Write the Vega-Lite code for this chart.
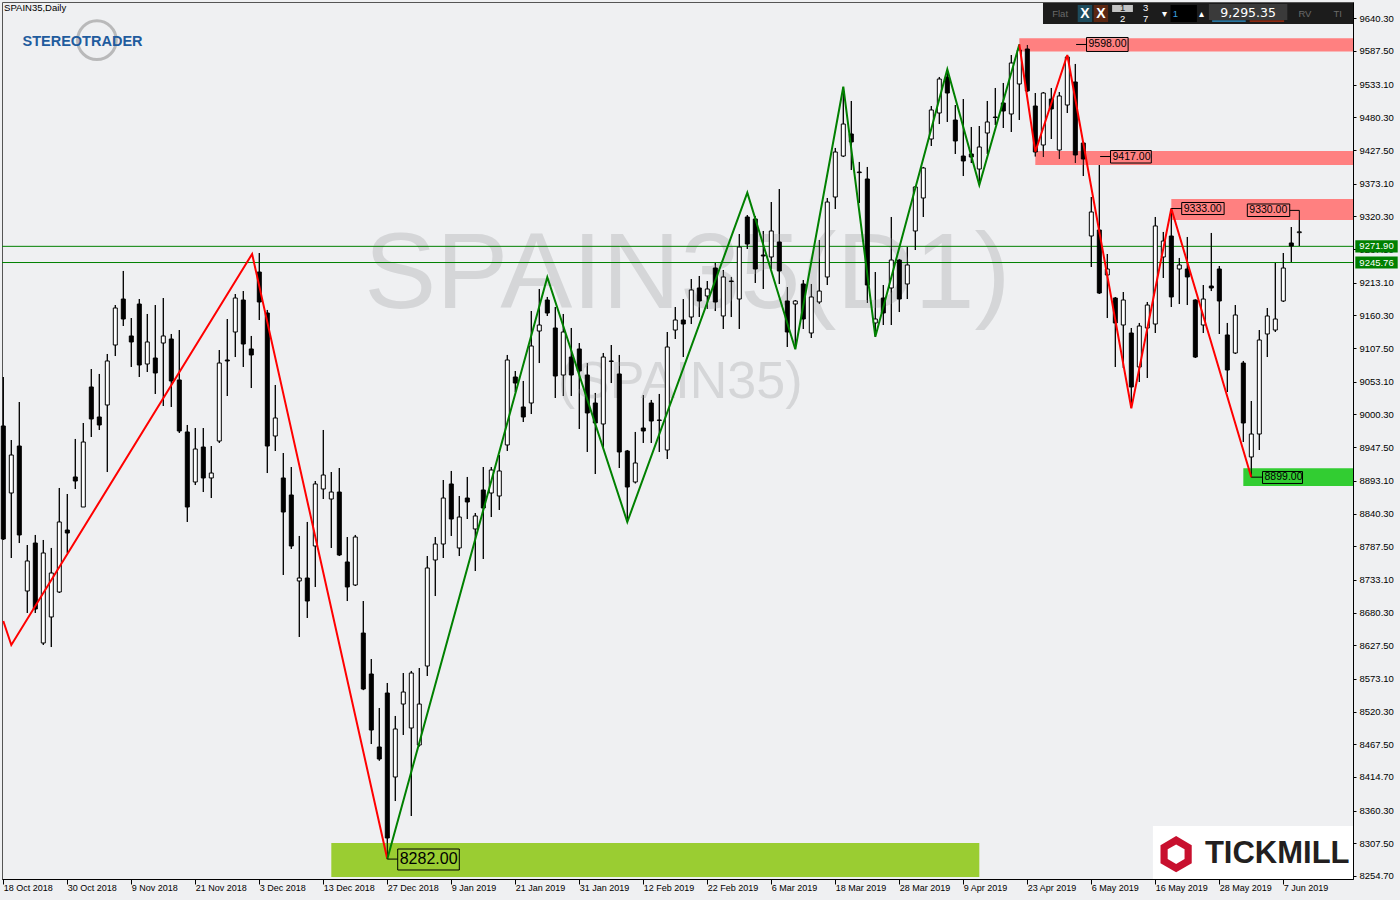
{
"$schema": "https://vega.github.io/schema/vega-lite/v6.json",
"width": 1351, "height": 877,
"autosize": {"type": "none"},
"padding": {"left": 2, "top": 2, "right": 47, "bottom": 21},
"background": "#eff0f2",
"config": {"view": {"stroke": "#555555", "strokeWidth": 1}, "font": "Liberation Sans", "axis": {"labelFont": "Liberation Sans", "grid": false, "title": null, "labelOverlap": false}, "scale": {"continuousPadding": 0}},
"resolve": {"scale": {"color": "independent", "fill": "independent", "stroke": "independent"}},
"datasets": {
"candles": [
{"i":0,"d":"2018-10-18","o":8981.7,"h":9060.8,"l":8797.5,"c":8799.1},
{"i":1,"d":"2018-10-19","o":8873.4,"h":8959.0,"l":8768.4,"c":8934.8},
{"i":2,"d":"2018-10-22","o":8949.3,"h":9020.4,"l":8792.6,"c":8805.6},
{"i":3,"d":"2018-10-23","o":8715.1,"h":8789.4,"l":8679.6,"c":8763.6},
{"i":4,"d":"2018-10-24","o":8792.6,"h":8805.6,"l":8679.6,"c":8686.0},
{"i":5,"d":"2018-10-25","o":8631.1,"h":8797.5,"l":8627.9,"c":8776.5},
{"i":6,"d":"2018-10-26","o":8673.1,"h":8784.6,"l":8624.6,"c":8744.2},
{"i":7,"d":"2018-10-29","o":8713.5,"h":8881.5,"l":8711.9,"c":8826.6},
{"i":8,"d":"2018-10-30","o":8813.6,"h":8871.8,"l":8776.5,"c":8808.8},
{"i":9,"d":"2018-10-31","o":8899.3,"h":8960.7,"l":8879.9,"c":8892.8},
{"i":10,"d":"2018-11-01","o":8850.8,"h":8986.5,"l":8850.8,"c":8955.8},
{"i":11,"d":"2018-11-02","o":9044.7,"h":9073.7,"l":8963.9,"c":8993.0},
{"i":12,"d":"2018-11-05","o":8996.2,"h":9065.7,"l":8975.2,"c":8983.3},
{"i":13,"d":"2018-11-06","o":9015.6,"h":9098.0,"l":8907.3,"c":9086.7},
{"i":14,"d":"2018-11-07","o":9112.5,"h":9177.1,"l":9094.7,"c":9172.3},
{"i":15,"d":"2018-11-08","o":9186.8,"h":9232.1,"l":9143.2,"c":9154.5},
{"i":16,"d":"2018-11-09","o":9127.1,"h":9156.1,"l":9077.0,"c":9117.4},
{"i":17,"d":"2018-11-12","o":9178.7,"h":9186.8,"l":9060.8,"c":9080.2},
{"i":18,"d":"2018-11-13","o":9081.8,"h":9162.6,"l":9068.9,"c":9117.4},
{"i":19,"d":"2018-11-14","o":9091.5,"h":9177.1,"l":9033.4,"c":9067.3},
{"i":20,"d":"2018-11-15","o":9115.7,"h":9188.4,"l":9014.0,"c":9127.1},
{"i":21,"d":"2018-11-16","o":9122.2,"h":9130.3,"l":9012.4,"c":9054.4},
{"i":22,"d":"2018-11-19","o":9056.0,"h":9136.7,"l":8970.4,"c":8973.6},
{"i":23,"d":"2018-11-20","o":8972.0,"h":8983.3,"l":8826.6,"c":8850.8},
{"i":24,"d":"2018-11-21","o":8891.2,"h":8978.4,"l":8886.3,"c":8944.5},
{"i":25,"d":"2018-11-22","o":8947.7,"h":8978.4,"l":8875.0,"c":8897.7},
{"i":26,"d":"2018-11-23","o":8897.7,"h":8949.3,"l":8865.3,"c":8905.7},
{"i":27,"d":"2018-11-26","o":8957.4,"h":9104.4,"l":8954.2,"c":9083.4},
{"i":28,"d":"2018-11-27","o":9088.3,"h":9154.5,"l":9030.1,"c":9086.7},
{"i":29,"d":"2018-11-28","o":9133.5,"h":9194.9,"l":9093.1,"c":9188.4},
{"i":30,"d":"2018-11-29","o":9185.2,"h":9199.7,"l":9077.0,"c":9114.1},
{"i":31,"d":"2018-11-30","o":9106.1,"h":9127.1,"l":9043.0,"c":9096.4},
{"i":32,"d":"2018-12-03","o":9230.4,"h":9261.1,"l":9152.9,"c":9182.0},
{"i":33,"d":"2018-12-04","o":9164.2,"h":9169.1,"l":8905.7,"c":8949.3},
{"i":34,"d":"2018-12-05","o":8965.5,"h":9047.9,"l":8941.3,"c":8994.6},
{"i":35,"d":"2018-12-06","o":8897.7,"h":8938.0,"l":8741.0,"c":8842.7},
{"i":36,"d":"2018-12-07","o":8870.2,"h":8915.4,"l":8783.0,"c":8787.8},
{"i":37,"d":"2018-12-10","o":8731.3,"h":8804.0,"l":8640.8,"c":8736.1},
{"i":38,"d":"2018-12-11","o":8736.1,"h":8826.6,"l":8671.5,"c":8698.9},
{"i":39,"d":"2018-12-12","o":8787.8,"h":8892.8,"l":8721.6,"c":8888.0},
{"i":40,"d":"2018-12-13","o":8879.9,"h":8975.2,"l":8863.7,"c":8902.5},
{"i":41,"d":"2018-12-14","o":8863.7,"h":8907.3,"l":8784.6,"c":8875.0},
{"i":42,"d":"2018-12-17","o":8875.0,"h":8913.8,"l":8771.6,"c":8773.3},
{"i":43,"d":"2018-12-18","o":8762.0,"h":8802.3,"l":8698.9,"c":8721.6},
{"i":44,"d":"2018-12-19","o":8724.8,"h":8805.6,"l":8723.2,"c":8802.3},
{"i":45,"d":"2018-12-20","o":8647.2,"h":8698.9,"l":8555.0,"c":8556.8},
{"i":46,"d":"2018-12-21","o":8581.0,"h":8605.2,"l":8467.9,"c":8490.5},
{"i":47,"d":"2018-12-24","o":8463.1,"h":8526.1,"l":8441.0,"c":8443.7},
{"i":48,"d":"2018-12-27","o":8550.3,"h":8566.5,"l":8282.0,"c":8316.1},
{"i":49,"d":"2018-12-28","o":8414.6,"h":8513.2,"l":8375.8,"c":8492.2},
{"i":50,"d":"2018-12-31","o":8532.5,"h":8582.6,"l":8482.5,"c":8551.9},
{"i":51,"d":"2019-01-02","o":8493.8,"h":8585.9,"l":8351.6,"c":8582.6},
{"i":52,"d":"2019-01-03","o":8466.3,"h":8590.7,"l":8464.0,"c":8532.5},
{"i":53,"d":"2019-01-04","o":8593.9,"h":8771.6,"l":8577.8,"c":8752.3},
{"i":54,"d":"2019-01-07","o":8765.2,"h":8802.3,"l":8707.0,"c":8791.0},
{"i":55,"d":"2019-01-08","o":8791.0,"h":8894.4,"l":8768.4,"c":8865.3},
{"i":56,"d":"2019-01-09","o":8888.0,"h":8909.0,"l":8804.0,"c":8831.4},
{"i":57,"d":"2019-01-10","o":8784.6,"h":8868.6,"l":8771.6,"c":8834.6},
{"i":58,"d":"2019-01-11","o":8865.3,"h":8899.3,"l":8831.4,"c":8858.9},
{"i":59,"d":"2019-01-14","o":8815.3,"h":8841.1,"l":8747.4,"c":8836.3},
{"i":60,"d":"2019-01-15","o":8878.3,"h":8915.4,"l":8766.8,"c":8849.2},
{"i":61,"d":"2019-01-16","o":8873.4,"h":8915.4,"l":8834.6,"c":8910.6},
{"i":62,"d":"2019-01-17","o":8868.6,"h":8934.8,"l":8846.0,"c":8909.0},
{"i":63,"d":"2019-01-18","o":8951.0,"h":9096.4,"l":8941.3,"c":9088.3},
{"i":64,"d":"2019-01-21","o":9060.8,"h":9070.5,"l":9036.6,"c":9051.1},
{"i":65,"d":"2019-01-22","o":9012.4,"h":9054.4,"l":8988.1,"c":8996.2},
{"i":66,"d":"2019-01-23","o":9018.8,"h":9167.4,"l":9001.0,"c":9110.9},
{"i":67,"d":"2019-01-24","o":9135.1,"h":9203.0,"l":9083.4,"c":9144.8},
{"i":68,"d":"2019-01-25","o":9185.2,"h":9190.1,"l":9159.4,"c":9164.2},
{"i":69,"d":"2019-01-28","o":9140.0,"h":9173.9,"l":9026.9,"c":9062.4},
{"i":70,"d":"2019-01-29","o":9064.0,"h":9162.6,"l":9030.1,"c":9133.5},
{"i":71,"d":"2019-01-30","o":9093.1,"h":9140.0,"l":9030.1,"c":9064.0},
{"i":72,"d":"2019-01-31","o":9106.1,"h":9115.7,"l":8976.8,"c":9070.5},
{"i":73,"d":"2019-02-01","o":9064.0,"h":9083.4,"l":8939.7,"c":9002.7},
{"i":74,"d":"2019-02-04","o":9018.8,"h":9035.0,"l":8904.1,"c":8986.5},
{"i":75,"d":"2019-02-05","o":8984.9,"h":9099.6,"l":8947.7,"c":9093.1},
{"i":76,"d":"2019-02-06","o":9086.7,"h":9112.5,"l":9051.1,"c":9086.0},
{"i":77,"d":"2019-02-07","o":9065.7,"h":9096.4,"l":8913.8,"c":8939.7},
{"i":78,"d":"2019-02-08","o":8941.3,"h":8942.9,"l":8826.6,"c":8883.1},
{"i":79,"d":"2019-02-11","o":8891.2,"h":8972.0,"l":8889.0,"c":8921.9},
{"i":80,"d":"2019-02-12","o":8978.4,"h":9031.7,"l":8954.2,"c":8973.6},
{"i":81,"d":"2019-02-13","o":9018.8,"h":9023.7,"l":8954.2,"c":8989.7},
{"i":82,"d":"2019-02-14","o":8991.4,"h":9033.4,"l":8939.7,"c":8990.6},
{"i":83,"d":"2019-02-15","o":8942.9,"h":9133.5,"l":8928.3,"c":9109.3},
{"i":84,"d":"2019-02-18","o":9136.7,"h":9173.9,"l":9122.2,"c":9152.9},
{"i":85,"d":"2019-02-19","o":9152.9,"h":9186.8,"l":9093.1,"c":9146.4},
{"i":86,"d":"2019-02-20","o":9157.7,"h":9219.1,"l":9146.4,"c":9201.4},
{"i":87,"d":"2019-02-21","o":9204.6,"h":9224.0,"l":9157.7,"c":9183.6},
{"i":88,"d":"2019-02-22","o":9191.7,"h":9215.9,"l":9170.7,"c":9203.0},
{"i":89,"d":"2019-02-25","o":9236.9,"h":9245.0,"l":9167.4,"c":9182.0},
{"i":90,"d":"2019-02-26","o":9159.4,"h":9233.7,"l":9138.4,"c":9222.4},
{"i":91,"d":"2019-02-27","o":9215.9,"h":9222.4,"l":9157.7,"c":9215.0},
{"i":92,"d":"2019-02-28","o":9186.8,"h":9291.8,"l":9138.4,"c":9270.8},
{"i":93,"d":"2019-03-01","o":9319.3,"h":9322.5,"l":9267.6,"c":9275.7},
{"i":94,"d":"2019-03-04","o":9316.1,"h":9320.9,"l":9212.7,"c":9235.3},
{"i":95,"d":"2019-03-05","o":9257.9,"h":9296.7,"l":9203.0,"c":9256.3},
{"i":96,"d":"2019-03-06","o":9254.7,"h":9343.5,"l":9235.3,"c":9296.7},
{"i":97,"d":"2019-03-07","o":9278.9,"h":9364.5,"l":9211.1,"c":9232.1},
{"i":98,"d":"2019-03-08","o":9183.6,"h":9206.2,"l":9109.3,"c":9133.5},
{"i":99,"d":"2019-03-11","o":9178.7,"h":9185.2,"l":9106.1,"c":9183.6},
{"i":100,"d":"2019-03-12","o":9211.1,"h":9217.5,"l":9138.4,"c":9154.5},
{"i":101,"d":"2019-03-13","o":9131.9,"h":9211.1,"l":9123.8,"c":9190.1},
{"i":102,"d":"2019-03-14","o":9182.0,"h":9282.1,"l":9178.7,"c":9199.7},
{"i":103,"d":"2019-03-15","o":9222.4,"h":9350.0,"l":9209.4,"c":9343.5},
{"i":104,"d":"2019-03-18","o":9351.6,"h":9430.8,"l":9332.2,"c":9424.3},
{"i":105,"d":"2019-03-19","o":9417.8,"h":9529.3,"l":9416.2,"c":9469.5},
{"i":106,"d":"2019-03-20","o":9453.4,"h":9506.7,"l":9395.2,"c":9440.5},
{"i":107,"d":"2019-03-21","o":9392.0,"h":9408.2,"l":9341.9,"c":9391.0},
{"i":108,"d":"2019-03-22","o":9380.7,"h":9400.1,"l":9180.4,"c":9209.4},
{"i":109,"d":"2019-03-25","o":9148.1,"h":9230.4,"l":9125.4,"c":9154.5},
{"i":110,"d":"2019-03-26","o":9188.4,"h":9209.4,"l":9144.8,"c":9164.2},
{"i":111,"d":"2019-03-27","o":9204.6,"h":9319.3,"l":9144.8,"c":9249.8},
{"i":112,"d":"2019-03-28","o":9249.8,"h":9251.5,"l":9165.8,"c":9186.8},
{"i":113,"d":"2019-03-29","o":9211.1,"h":9270.8,"l":9186.8,"c":9241.8},
{"i":114,"d":"2019-04-01","o":9296.7,"h":9369.4,"l":9266.0,"c":9367.8},
{"i":115,"d":"2019-04-02","o":9350.0,"h":9400.1,"l":9319.3,"c":9398.5},
{"i":116,"d":"2019-04-03","o":9445.3,"h":9498.6,"l":9434.0,"c":9492.2},
{"i":117,"d":"2019-04-04","o":9487.3,"h":9545.5,"l":9469.5,"c":9542.2},
{"i":118,"d":"2019-04-05","o":9545.5,"h":9556.8,"l":9472.8,"c":9519.6},
{"i":119,"d":"2019-04-08","o":9476.0,"h":9500.2,"l":9421.1,"c":9442.1},
{"i":120,"d":"2019-04-09","o":9417.8,"h":9509.9,"l":9385.5,"c":9409.8},
{"i":121,"d":"2019-04-10","o":9421.1,"h":9464.7,"l":9406.5,"c":9416.2},
{"i":122,"d":"2019-04-11","o":9396.8,"h":9466.3,"l":9371.0,"c":9432.4},
{"i":123,"d":"2019-04-12","o":9455.0,"h":9506.7,"l":9421.1,"c":9472.8},
{"i":124,"d":"2019-04-15","o":9480.8,"h":9527.7,"l":9467.9,"c":9480.0},
{"i":125,"d":"2019-04-16","o":9503.5,"h":9535.8,"l":9463.1,"c":9490.5},
{"i":126,"d":"2019-04-17","o":9485.7,"h":9581.0,"l":9456.6,"c":9568.1},
{"i":127,"d":"2019-04-18","o":9534.2,"h":9598.0,"l":9476.0,"c":9589.1},
{"i":128,"d":"2019-04-23","o":9590.7,"h":9597.2,"l":9521.2,"c":9522.9},
{"i":129,"d":"2019-04-24","o":9498.6,"h":9519.6,"l":9417.0,"c":9424.3},
{"i":130,"d":"2019-04-25","o":9435.6,"h":9521.2,"l":9416.2,"c":9519.6},
{"i":131,"d":"2019-04-26","o":9509.9,"h":9527.7,"l":9445.3,"c":9493.8},
{"i":132,"d":"2019-04-29","o":9427.5,"h":9521.2,"l":9413.0,"c":9514.8},
{"i":133,"d":"2019-04-30","o":9500.2,"h":9579.4,"l":9487.3,"c":9577.8},
{"i":134,"d":"2019-05-02","o":9537.4,"h":9566.5,"l":9406.5,"c":9419.5},
{"i":135,"d":"2019-05-03","o":9438.8,"h":9440.0,"l":9385.5,"c":9413.0},
{"i":136,"d":"2019-05-06","o":9288.6,"h":9351.6,"l":9238.5,"c":9327.4},
{"i":137,"d":"2019-05-07","o":9298.3,"h":9403.3,"l":9194.9,"c":9196.5},
{"i":138,"d":"2019-05-08","o":9225.6,"h":9259.5,"l":9156.1,"c":9235.3},
{"i":139,"d":"2019-05-09","o":9188.4,"h":9190.0,"l":9077.0,"c":9148.1},
{"i":140,"d":"2019-05-10","o":9144.8,"h":9198.1,"l":9075.4,"c":9185.2},
{"i":141,"d":"2019-05-13","o":9131.9,"h":9140.0,"l":9010.7,"c":9044.7},
{"i":142,"d":"2019-05-14","o":9077.0,"h":9148.1,"l":9052.7,"c":9143.2},
{"i":143,"d":"2019-05-15","o":9140.0,"h":9182.0,"l":9059.2,"c":9177.1},
{"i":144,"d":"2019-05-16","o":9146.4,"h":9319.3,"l":9131.9,"c":9304.8},
{"i":145,"d":"2019-05-17","o":9254.7,"h":9295.1,"l":9220.8,"c":9280.5},
{"i":146,"d":"2019-05-20","o":9288.6,"h":9333.0,"l":9173.9,"c":9190.1},
{"i":147,"d":"2019-05-21","o":9235.3,"h":9253.1,"l":9178.7,"c":9241.8},
{"i":148,"d":"2019-05-22","o":9235.3,"h":9287.0,"l":9177.1,"c":9222.4},
{"i":149,"d":"2019-05-23","o":9185.2,"h":9186.0,"l":9091.5,"c":9093.1},
{"i":150,"d":"2019-05-24","o":9144.8,"h":9209.4,"l":9131.9,"c":9186.8},
{"i":151,"d":"2019-05-27","o":9207.8,"h":9293.5,"l":9199.7,"c":9204.6},
{"i":152,"d":"2019-05-28","o":9235.3,"h":9240.1,"l":9130.3,"c":9183.6},
{"i":153,"d":"2019-05-29","o":9128.7,"h":9148.1,"l":9036.6,"c":9072.1},
{"i":154,"d":"2019-05-30","o":9099.6,"h":9177.1,"l":9098.0,"c":9161.0},
{"i":155,"d":"2019-05-31","o":9083.4,"h":9086.7,"l":8955.8,"c":8986.5},
{"i":156,"d":"2019-06-03","o":8931.6,"h":9022.0,"l":8899.0,"c":8968.7},
{"i":157,"d":"2019-06-04","o":8968.7,"h":9136.7,"l":8942.9,"c":9120.6},
{"i":158,"d":"2019-06-05","o":9130.3,"h":9172.3,"l":9093.1,"c":9159.4},
{"i":159,"d":"2019-06-06","o":9136.7,"h":9245.0,"l":9133.5,"c":9154.5},
{"i":160,"d":"2019-06-07","o":9183.6,"h":9261.1,"l":9182.0,"c":9236.9},
{"i":161,"d":"2019-06-10","o":9277.3,"h":9303.1,"l":9246.6,"c":9272.4},
{"i":162,"d":"2019-06-11","o":9294.0,"h":9330.0,"l":9272.4,"c":9295.35}
],
"zones": [
{"z":"res","i0":127,"i1":168.71,"p0":9607.9,"p1":9586.5},
{"z":"res","i0":129,"i1":168.71,"p0":9425.9,"p1":9403.3},
{"z":"res","i0":146,"i1":168.71,"p0":9348.4,"p1":9314.5},
{"z":"sup","i0":155,"i1":168.71,"p0":8913.3,"p1":8884.7},
{"z":"major","i0":41,"i1":122,"p0":8308.0,"p1":8253.1}
],
"hlines": [
{"t":"9271.90","p":9271.9,"lo":9262.0,"hi":9281.8},
{"t":"9245.76","p":9245.76,"lo":9235.9,"hi":9255.6}
],
"zig": [
{"s":"r1","i":0,"p":8666.6},{"s":"r1","i":1,"p":8627.9},{"s":"r1","i":31.1,"p":9259.5},{"s":"r1","i":48,"p":8282},
{"s":"g","i":48,"p":8282},{"s":"g","i":68,"p":9222},{"s":"g","i":78,"p":8826.6},{"s":"g","i":93,"p":9358.6},{"s":"g","i":99,"p":9105.6},{"s":"g","i":105,"p":9529.8},{"s":"g","i":109,"p":9125.9},{"s":"g","i":118,"p":9557.9},{"s":"g","i":122,"p":9371},{"s":"g","i":127,"p":9598},
{"s":"r2","i":127,"p":9598},{"s":"r2","i":129,"p":9424.8},{"s":"r2","i":133,"p":9581},{"s":"r2","i":141,"p":9010.2},{"s":"r2","i":146,"p":9333},{"s":"r2","i":156,"p":8899}
],
"labels": [
{"t":"9598.00","a":134.1,"b":135.4,"i0":135.4,"i1":140.6,"p":9598,"p0":9609.3,"p1":9586.7},
{"t":"9417.00","a":137.1,"b":138.4,"i0":138.4,"i1":143.5,"p":9417,"p0":9426.7,"p1":9406.5},
{"t":"9333.00","a":146,"b":147.3,"i0":147.3,"i1":152.6,"p":9333,"p0":9342.7,"p1":9323.3},
{"t":"9330.00","a":162,"b":160.8,"i0":155.5,"i1":160.8,"p":9330,"p0":9340.3,"p1":9320.1},
{"t":"8899.00","a":156,"b":157.4,"i0":157.4,"i1":162.4,"p":8899,"p0":8908.1,"p1":8888.8},
{"t":"8282.00","a":48,"b":49.3,"i0":49.3,"i1":57.0,"p":8282,"p0":8298.3,"p1":8264.4}
],
"title": [{"t":"SPAIN35,Daily","i":0.1,"p":9656.5}],
"wm1": [{"t":"SPAIN35(D1)","i":85.5,"p":9224}],
"wm2": [{"t":"(SPAIN35)","i":84.6,"p":9052}],
"st": [{"t":"STEREOTRADER","i":9.9,"p":9602,"ri":11.7,"rp":9605}],
"tm": [{"t":"TICKMILL","i":150.2,"p":8290,"hi":146.6,"i0":143.7,"i1":168.71,"p0":8335.4,"p1":8249.9}],
"tbr": [
{"k":"bar","i0":129.96,"i1":168.71,"p0":9665.0,"p1":9631.1},
{"k":"blue","i0":134.3,"i1":136.1,"p0":9661.8,"p1":9634.3},
{"k":"brown","i0":136.3,"i1":138.1,"p0":9661.8,"p1":9634.3},
{"k":"light","i0":138.6,"i1":141.2,"p0":9661.8,"p1":9650.5},
{"k":"input","i0":145.9,"i1":149.2,"p0":9661.8,"p1":9634.3},
{"k":"price","i0":150.7,"i1":160.5,"p0":9663.4,"p1":9637.5},
{"k":"ub","i0":151.1,"i1":155.3,"p0":9637.0,"p1":9634.2},
{"k":"ur","i0":155.8,"i1":160.1,"p0":9637.0,"p1":9634.2}
],
"tbt": [
{"k":"gray","t":"Flat","i":132.1,"p":9647.2},
{"k":"gray","t":"RV","i":162.7,"p":9647.2},
{"k":"gray","t":"TI","i":166.8,"p":9647.2},
{"k":"dark","t":"1","i":139.9,"p":9656.4},
{"k":"white","t":"2","i":139.9,"p":9639.2},
{"k":"white","t":"3","i":142.8,"p":9657.6},
{"k":"white","t":"7","i":142.8,"p":9639.2},
{"k":"white","t":"▾","i":145.1,"p":9647.2},
{"k":"white","t":"▴","i":149.8,"p":9647.2},
{"k":"blue","t":"1","i":146.5,"p":9647.2}
],
"tbx": [{"t":"X","i":135.2,"p":9647.6},{"t":"X","i":137.2,"p":9647.6}],
"tbp": [{"t":"9,295.35","i":155.6,"p":9649.5}]
},
"layer": [
{"data":{"name":"candles"},"mark":{"type":"rule","color":"#000000","strokeWidth":1},
 "encoding":{
  "x":{"field":"i","type":"quantitative","scale":{"domain":[-0.1625,168.71],"nice":false,"zero":false,"padding":0},
   "axis":{"orient":"bottom","title":null,"values":[0,8,16,24,32,40,48,56,64,72,80,88,96,104,112,120,128,136,144,152,160],"tickCount":100,
   "labelExpr":"['18 Oct 2018','30 Oct 2018','9 Nov 2018','21 Nov 2018','3 Dec 2018','13 Dec 2018','27 Dec 2018','9 Jan 2019','21 Jan 2019','31 Jan 2019','12 Feb 2019','22 Feb 2019','6 Mar 2019','18 Mar 2019','28 Mar 2019','9 Apr 2019','23 Apr 2019','6 May 2019','16 May 2019','28 May 2019','7 Jun 2019'][round(datum.value/8)]",
   "labelAlign":"left","labelBaseline":"top","labelOffset":0,"labelPadding":-1,"labelFontSize":9,"labelColor":"#000000","tickColor":"#000000","tickSize":5,"domainColor":"#000000","grid":false,"labelOverlap":false,"labelBound":false,"labelFlush":false}},
  "y":{"field":"l","type":"quantitative","scale":{"domain":[8249.84,9666.63],"nice":false,"zero":false},
   "axis":{"orient":"right","title":null,"values":[9640.3,9587.5,9533.1,9480.3,9427.5,9373.1,9320.3,9267.5,9213.1,9160.3,9107.5,9053.1,9000.3,8947.5,8893.1,8840.3,8787.5,8733.1,8680.3,8627.5,8573.1,8520.3,8467.5,8414.7,8360.3,8307.5,8254.7],"tickCount":100,
   "format":".2f","labelFontSize":9.5,"labelColor":"#000000","tickColor":"#000000","tickSize":3,"labelPadding":3,"domainColor":"#000000","grid":false,"labelOverlap":false,"labelBound":false,"labelFlush":false}},
  "y2":{"field":"h"}}},
{"data":{"name":"wm1"},"mark":{"type":"text","font":"Liberation Sans","fontSize":108,"color":"#d5d6d8","align":"center","baseline":"middle"},
 "encoding":{"x":{"field":"i","type":"quantitative","scale":{"domain":[-0.1625,168.71],"nice":false,"zero":false,"padding":0}},"y":{"field":"p","type":"quantitative","scale":{"domain":[8249.84,9666.63],"nice":false,"zero":false}},"text":{"field":"t"}}},
{"data":{"name":"wm2"},"mark":{"type":"text","font":"Liberation Sans","fontSize":52,"color":"#d5d6d8","align":"center","baseline":"middle"},
 "encoding":{"x":{"field":"i","type":"quantitative","scale":{"domain":[-0.1625,168.71],"nice":false,"zero":false,"padding":0}},"y":{"field":"p","type":"quantitative","scale":{"domain":[8249.84,9666.63],"nice":false,"zero":false}},"text":{"field":"t"}}},
{"data":{"name":"zones"},"mark":{"type":"rect"},
 "encoding":{"x":{"field":"i0","type":"quantitative","scale":{"domain":[-0.1625,168.71],"nice":false,"zero":false,"padding":0}},"x2":{"field":"i1"},"y":{"field":"p0","type":"quantitative","scale":{"domain":[8249.84,9666.63],"nice":false,"zero":false}},"y2":{"field":"p1"},
 "fill":{"field":"z","type":"nominal","scale":{"domain":["res","sup","major"],"range":["#ff8080","#32cd32","#9acd32"]},"legend":null}}},
{"data":{"name":"hlines"},"mark":{"type":"rule","color":"#008000","strokeWidth":1},
 "encoding":{"y":{"field":"p","type":"quantitative","scale":{"domain":[8249.84,9666.63],"nice":false,"zero":false}}}},
{"data":{"name":"candles"},"mark":{"type":"rule","color":"#000000","strokeWidth":1},
 "encoding":{"x":{"field":"i","type":"quantitative","scale":{"domain":[-0.1625,168.71],"nice":false,"zero":false,"padding":0}},
  "y":{"field":"l","type":"quantitative","scale":{"domain":[8249.84,9666.63],"nice":false,"zero":false}},"y2":{"field":"h"}}},
{"data":{"name":"candles"},"mark":{"type":"bar","orient":"vertical","size":4,"stroke":"#000000","strokeWidth":1},
 "encoding":{"x":{"field":"i","type":"quantitative","scale":{"domain":[-0.1625,168.71],"nice":false,"zero":false,"padding":0}},
  "y":{"field":"o","type":"quantitative","scale":{"domain":[8249.84,9666.63],"nice":false,"zero":false}},"y2":{"field":"c"},
  "fill":{"condition":{"test":"datum.c >= datum.o","value":"#ffffff"},"value":"#000000"}}},
{"data":{"name":"zig"},"mark":{"type":"line","strokeWidth":2},
 "encoding":{"x":{"field":"i","type":"quantitative","scale":{"domain":[-0.1625,168.71],"nice":false,"zero":false,"padding":0}},
  "y":{"field":"p","type":"quantitative","scale":{"domain":[8249.84,9666.63],"nice":false,"zero":false}},
  "stroke":{"field":"s","type":"nominal","scale":{"domain":["r1","g","r2"],"range":["#ff0000","#008000","#ff0000"]},"legend":null}}},
{"data":{"name":"labels"},"mark":{"type":"rule","color":"#000000","strokeWidth":1},
 "encoding":{"x":{"field":"a","type":"quantitative","scale":{"domain":[-0.1625,168.71],"nice":false,"zero":false,"padding":0}},"x2":{"field":"b"},
  "y":{"field":"p","type":"quantitative","scale":{"domain":[8249.84,9666.63],"nice":false,"zero":false}}}},
{"data":{"name":"labels"},"mark":{"type":"rect","fill":"transparent","stroke":"#000000","strokeWidth":1},
 "encoding":{"x":{"field":"i0","type":"quantitative","scale":{"domain":[-0.1625,168.71],"nice":false,"zero":false,"padding":0}},"x2":{"field":"i1"},
  "y":{"field":"p0","type":"quantitative","scale":{"domain":[8249.84,9666.63],"nice":false,"zero":false}},"y2":{"field":"p1"}}},
{"data":{"name":"labels"},"transform":[{"filter":"datum.t != '8282.00'"}],"mark":{"type":"text","fontSize":10.5,"color":"#000000","align":"left","baseline":"middle","dx":2},
 "encoding":{"x":{"field":"i0","type":"quantitative","scale":{"domain":[-0.1625,168.71],"nice":false,"zero":false,"padding":0}},
  "y":{"field":"p","type":"quantitative","scale":{"domain":[8249.84,9666.63],"nice":false,"zero":false}},"text":{"field":"t"}}},
{"data":{"name":"labels"},"transform":[{"filter":"datum.t == '8282.00'"}],"mark":{"type":"text","fontSize":16,"color":"#000000","align":"left","baseline":"middle","dx":2},
 "encoding":{"x":{"field":"i0","type":"quantitative","scale":{"domain":[-0.1625,168.71],"nice":false,"zero":false,"padding":0}},
  "y":{"field":"p","type":"quantitative","scale":{"domain":[8249.84,9666.63],"nice":false,"zero":false}},"text":{"field":"t"}}},
{"data":{"name":"hlines"},"mark":{"type":"rect","fill":"#008000"},
 "encoding":{"x":{"datum":169.0,"type":"quantitative","scale":{"domain":[-0.1625,168.71],"nice":false,"zero":false,"padding":0}},"x2":{"datum":174.3},
  "y":{"field":"lo","type":"quantitative","scale":{"domain":[8249.84,9666.63],"nice":false,"zero":false}},"y2":{"field":"hi"}}},
{"data":{"name":"hlines"},"mark":{"type":"text","fontSize":9.5,"color":"#ffffff","align":"center","baseline":"middle"},
 "encoding":{"x":{"datum":171.65,"type":"quantitative","scale":{"domain":[-0.1625,168.71],"nice":false,"zero":false,"padding":0}},
  "y":{"field":"p","type":"quantitative","scale":{"domain":[8249.84,9666.63],"nice":false,"zero":false}},"text":{"field":"t"}}},
{"data":{"name":"title"},"mark":{"type":"text","fontSize":9.5,"color":"#000000","align":"left","baseline":"middle"},
 "encoding":{"x":{"field":"i","type":"quantitative","scale":{"domain":[-0.1625,168.71],"nice":false,"zero":false,"padding":0}},
  "y":{"field":"p","type":"quantitative","scale":{"domain":[8249.84,9666.63],"nice":false,"zero":false}},"text":{"field":"t"}}},
{"data":{"name":"st"},"mark":{"type":"point","shape":"circle","filled":false,"size":1500,"stroke":"#a3a3a3","strokeWidth":3},
 "encoding":{"x":{"field":"ri","type":"quantitative","scale":{"domain":[-0.1625,168.71],"nice":false,"zero":false,"padding":0}},
  "y":{"field":"rp","type":"quantitative","scale":{"domain":[8249.84,9666.63],"nice":false,"zero":false}}}},
{"data":{"name":"st"},"mark":{"type":"text","font":"Liberation Sans","fontSize":14.5,"fontWeight":"bold","color":"#1f5c9e","align":"center","baseline":"middle"},
 "encoding":{"x":{"field":"i","type":"quantitative","scale":{"domain":[-0.1625,168.71],"nice":false,"zero":false,"padding":0}},
  "y":{"field":"p","type":"quantitative","scale":{"domain":[8249.84,9666.63],"nice":false,"zero":false}},"text":{"field":"t"}}},
{"data":{"name":"tm"},"mark":{"type":"rect","fill":"#ffffff"},
 "encoding":{"x":{"field":"i0","type":"quantitative","scale":{"domain":[-0.1625,168.71],"nice":false,"zero":false,"padding":0}},"x2":{"field":"i1"},
  "y":{"field":"p0","type":"quantitative","scale":{"domain":[8249.84,9666.63],"nice":false,"zero":false}},"y2":{"field":"p1"}}},
{"data":{"name":"tm"},"mark":{"type":"point","shape":"M0,-1L0.866,-0.5L0.866,0.5L0,1L-0.866,0.5L-0.866,-0.5Z","filled":true,"size":1300,"color":"#c8102e","opacity":1},
 "encoding":{"x":{"field":"hi","type":"quantitative","scale":{"domain":[-0.1625,168.71],"nice":false,"zero":false,"padding":0}},
  "y":{"field":"p","type":"quantitative","scale":{"domain":[8249.84,9666.63],"nice":false,"zero":false}}}},
{"data":{"name":"tm"},"mark":{"type":"point","shape":"M0,-1L0.866,-0.5L0.866,0.5L0,1L-0.866,0.5L-0.866,-0.5Z","filled":true,"size":380,"color":"#ffffff","opacity":1},
 "encoding":{"x":{"field":"hi","type":"quantitative","scale":{"domain":[-0.1625,168.71],"nice":false,"zero":false,"padding":0}},
  "y":{"field":"p","type":"quantitative","scale":{"domain":[8249.84,9666.63],"nice":false,"zero":false}}}},
{"data":{"name":"tm"},"mark":{"type":"text","fontSize":31,"fontWeight":"bold","color":"#231f20","align":"left","baseline":"middle"},
 "encoding":{"x":{"field":"i","type":"quantitative","scale":{"domain":[-0.1625,168.71],"nice":false,"zero":false,"padding":0}},
  "y":{"field":"p","type":"quantitative","scale":{"domain":[8249.84,9666.63],"nice":false,"zero":false}},"text":{"field":"t"}}},
{"data":{"name":"tbr"},"mark":{"type":"rect"},
 "encoding":{"x":{"field":"i0","type":"quantitative","scale":{"domain":[-0.1625,168.71],"nice":false,"zero":false,"padding":0}},"x2":{"field":"i1"},
  "y":{"field":"p0","type":"quantitative","scale":{"domain":[8249.84,9666.63],"nice":false,"zero":false}},"y2":{"field":"p1"},
  "color":{"field":"k","type":"nominal","scale":{"domain":["bar","blue","brown","light","input","price","ub","ur"],"range":["#1c1c1c","#1d4b5c","#5b2612","#c4c4c4","#000000","#3a3a3a","#2a76a0","#8a2a12"]},"legend":null}}},
{"data":{"name":"tbt"},"mark":{"type":"text","fontSize":9.5,"align":"center","baseline":"middle"},
 "encoding":{"x":{"field":"i","type":"quantitative","scale":{"domain":[-0.1625,168.71],"nice":false,"zero":false,"padding":0}},
  "y":{"field":"p","type":"quantitative","scale":{"domain":[8249.84,9666.63],"nice":false,"zero":false}},"text":{"field":"t"},
  "color":{"field":"k","type":"nominal","scale":{"domain":["gray","white","dark","blue"],"range":["#6a6a6a","#ffffff","#222222","#3aa0e0"]},"legend":null}}},
{"data":{"name":"tbx"},"mark":{"type":"text","fontSize":14,"fontWeight":"bold","color":"#ffffff","align":"center","baseline":"middle"},
 "encoding":{"x":{"field":"i","type":"quantitative","scale":{"domain":[-0.1625,168.71],"nice":false,"zero":false,"padding":0}},
  "y":{"field":"p","type":"quantitative","scale":{"domain":[8249.84,9666.63],"nice":false,"zero":false}},"text":{"field":"t"}}},
{"data":{"name":"tbp"},"mark":{"type":"text","fontSize":12.5,"color":"#ffffff","align":"center","baseline":"middle","font":"DejaVu Sans"},
 "encoding":{"x":{"field":"i","type":"quantitative","scale":{"domain":[-0.1625,168.71],"nice":false,"zero":false,"padding":0}},
  "y":{"field":"p","type":"quantitative","scale":{"domain":[8249.84,9666.63],"nice":false,"zero":false}},"text":{"field":"t"}}}
]
}
